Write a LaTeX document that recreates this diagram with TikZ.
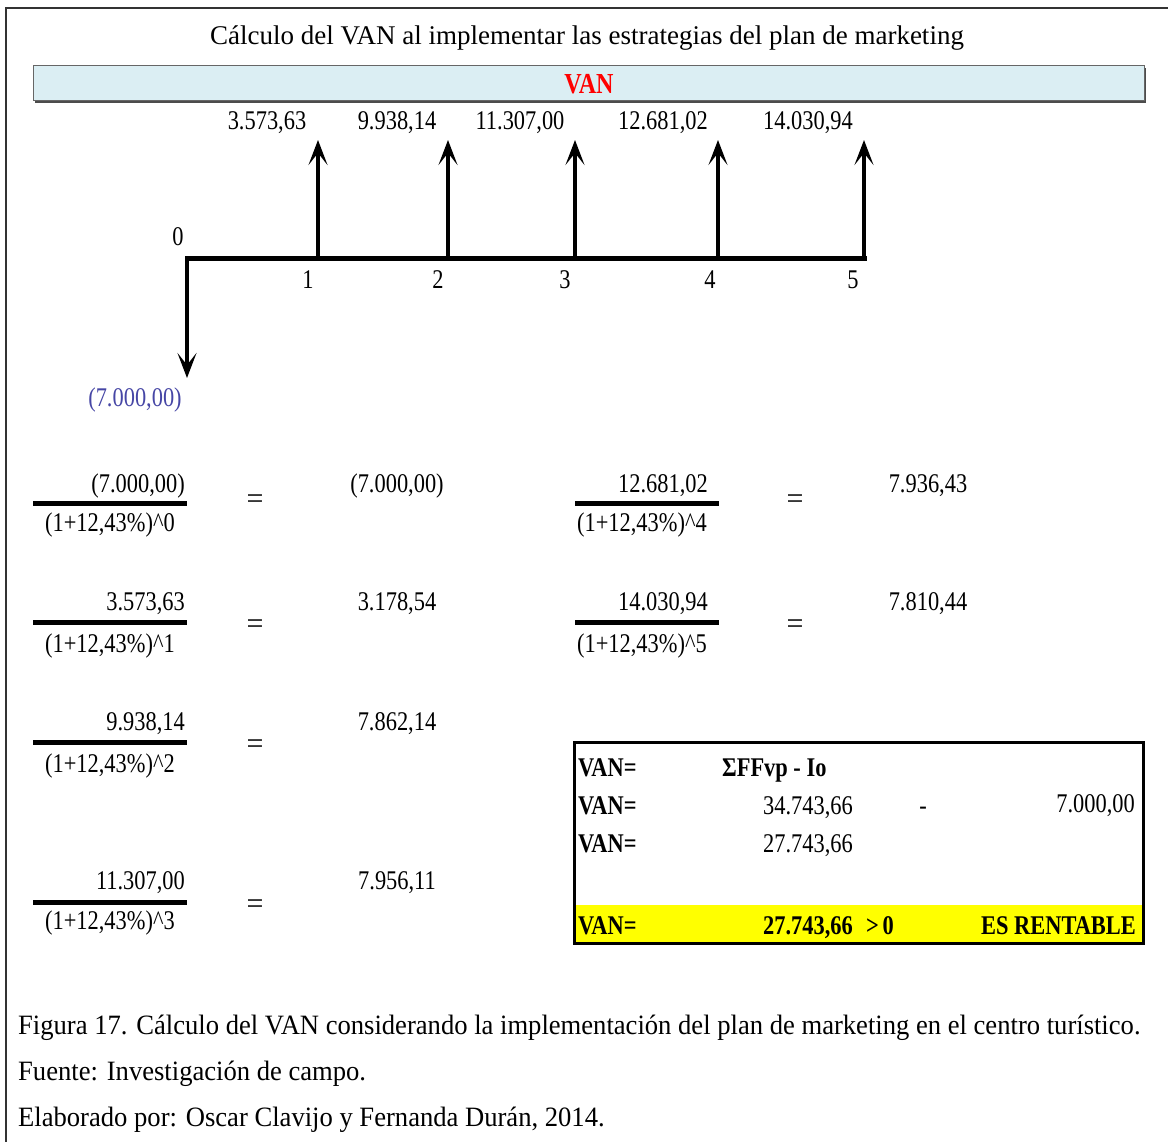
\documentclass[tikz,border=0pt]{standalone}
\usepackage{fontspec}
\setmainfont{Liberation Serif}
\usetikzlibrary{arrows.meta}
\definecolor{vanblue}{RGB}{219,238,243}
\definecolor{negblue}{RGB}{70,70,165}
\definecolor{vanred}{RGB}{255,0,0}
\definecolor{ylw}{RGB}{255,255,0}
\tikzset{
  num/.style={inner sep=0pt, font=\fontsize{27}{27}\selectfont, xscale=0.83},
  numb/.style={num, font=\fontsize{27}{27}\selectfont\bfseries},
  eqs/.style={inner sep=0pt, font=\fontsize{30}{30}\selectfont},
  ttl/.style={inner sep=0pt, font=\fontsize{27}{27}\selectfont},
  captxt/.style={inner sep=0pt, anchor=base west, font=\fontsize{28}{28}\selectfont, xscale=0.95},
  flow/.style={line width=4.5pt, -{Stealth[length=25pt,width=19pt,inset=12pt]}},
  fbar/.style={line width=5pt},
}
\begin{document}
\begin{tikzpicture}[x=1pt,y=-1pt]
\useasboundingbox (0,0) rectangle (1168,1142);
% outer frame
\draw[line width=1.2pt, black!80] (6,1160) -- (6,8) -- (1180,8);
% title
\node[ttl, anchor=base] (title) at (587,45) {Cálculo del VAN al implementar las estrategias del plan de marketing};
% VAN bar
\fill[black!70] (35,68) rectangle (1146,103);
\draw[fill=vanblue, draw=black!60, line width=1pt] (33,66) rectangle (1144,101);
\node[numb, text=vanred, anchor=base, font=\fontsize{29}{29}\selectfont\bfseries] (van) at (589,94) {VAN};
% timeline
\coordinate (t0) at (187,259);
\coordinate (t1) at (318,259);
\coordinate (t2) at (448,259);
\coordinate (t3) at (575,259);
\coordinate (t4) at (718,259);
\coordinate (t5) at (864,259);
\draw[line width=5pt, line cap=rect] (t0) -- (t5);
\coordinate (d0) at (187,378);
\coordinate (u1) at (318,140);
\coordinate (u2) at (448,140);
\coordinate (u3) at (575,140);
\coordinate (u4) at (718,140);
\coordinate (u5) at (864,140);
\draw[flow] (t0) -- (d0);
\draw[flow] (t1) -- (u1);
\draw[flow] (t2) -- (u2);
\draw[flow] (t3) -- (u3);
\draw[flow] (t4) -- (u4);
\draw[flow] (t5) -- (u5);
% flow values
\node[num, anchor=base] (v1) at (267,130) {3.573,63};
\node[num, anchor=base] (v2) at (397,130) {9.938,14};
\node[num, anchor=base] (v3) at (520,130) {11.307,00};
\node[num, anchor=base] (v4) at (663,130) {12.681,02};
\node[num, anchor=base] (v5) at (808,130) {14.030,94};
\node[num, anchor=base] (v0) at (135,406) {\textcolor{negblue}{(7.000,00)}};
% period labels
\node[num, anchor=base] (p0) at (178,246) {0};
\node[num, anchor=base] (p1) at (308,289) {1};
\node[num, anchor=base] (p2) at (438,289) {2};
\node[num, anchor=base] (p3) at (565,289) {3};
\node[num, anchor=base] (p4) at (710,289) {4};
\node[num, anchor=base] (p5) at (853,289) {5};
% fractions left column
\draw[fbar] (33,503) -- (187,503);
\node[num, anchor=base east] (n0) at (185,492) {(7.000,00)};
\node[num, anchor=base west] (q0) at (45,531) {(1+12,43\%)\^{}0};
\node[eqs] (e0) at (255,502) {=};
\node[num, anchor=base] (r0) at (397,492) {(7.000,00)};

\draw[fbar] (33,622) -- (187,622);
\node[num, anchor=base east] (n1) at (185,610) {3.573,63};
\node[num, anchor=base west] (q1) at (45,652) {(1+12,43\%)\^{}1};
\node[eqs] (e1) at (255,627) {=};
\node[num, anchor=base] (r1) at (397,610) {3.178,54};

\draw[fbar] (33,742) -- (187,742);
\node[num, anchor=base east] (n2) at (185,730) {9.938,14};
\node[num, anchor=base west] (q2) at (45,772) {(1+12,43\%)\^{}2};
\node[eqs] (e2) at (255,747) {=};
\node[num, anchor=base] (r2) at (397,730) {7.862,14};

\draw[fbar] (33,902) -- (187,902);
\node[num, anchor=base east] (n3) at (185,889) {11.307,00};
\node[num, anchor=base west] (q3) at (45,929) {(1+12,43\%)\^{}3};
\node[eqs] (e3) at (255,907) {=};
\node[num, anchor=base] (r3) at (397,889) {7.956,11};
% fractions right column
\draw[fbar] (575,503) -- (719,503);
\node[num, anchor=base east] (n4) at (708,492) {12.681,02};
\node[num, anchor=base west] (q4) at (577,531) {(1+12,43\%)\^{}4};
\node[eqs] (e4) at (795,502) {=};
\node[num, anchor=base] (r4) at (928,492) {7.936,43};

\draw[fbar] (575,622) -- (719,622);
\node[num, anchor=base east] (n5) at (708,610) {14.030,94};
\node[num, anchor=base west] (q5) at (577,652) {(1+12,43\%)\^{}5};
\node[eqs] (e5) at (795,627) {=};
\node[num, anchor=base] (r5) at (928,610) {7.810,44};
% result box
\fill[ylw] (575,905) rectangle (1143,942);
\draw[line width=3pt] (574,742) rectangle (1143,943);
\node[numb, anchor=base west] (b1) at (578,776) {VAN=};
\node[numb, anchor=base west] (b1v) at (722,776) {ΣFFvp - Io};
\node[numb, anchor=base west] (b2) at (578,814) {VAN=};
\node[num, anchor=base east] (b2v) at (853,814) {34.743,66};
\node[num, anchor=base] (b2m) at (923,814) {-};
\node[num, anchor=base east] (b2w) at (1135,812) {7.000,00};
\node[numb, anchor=base west] (b3) at (578,852) {VAN=};
\node[num, anchor=base east] (b3v) at (853,852) {27.743,66};
\node[numb, anchor=base west] (b4) at (578,934) {VAN=};
\node[numb, anchor=base east] (b4v) at (853,934) {27.743,66};
\node[numb, anchor=base west] (b4g) at (866,934) {>\,0};
\node[numb, anchor=base east] (b4r) at (1136,934) {ES RENTABLE};
% caption
\node[captxt] (c1) at (18,1034) {Figura 17. Cálculo del VAN considerando la implementación del plan de marketing en el centro turístico.};
\node[captxt] (c2) at (18,1080) {Fuente: Investigación de campo.};
\node[captxt] (c3) at (18,1126) {Elaborado por: Oscar Clavijo y Fernanda Durán, 2014.};
\end{tikzpicture}
\end{document}
